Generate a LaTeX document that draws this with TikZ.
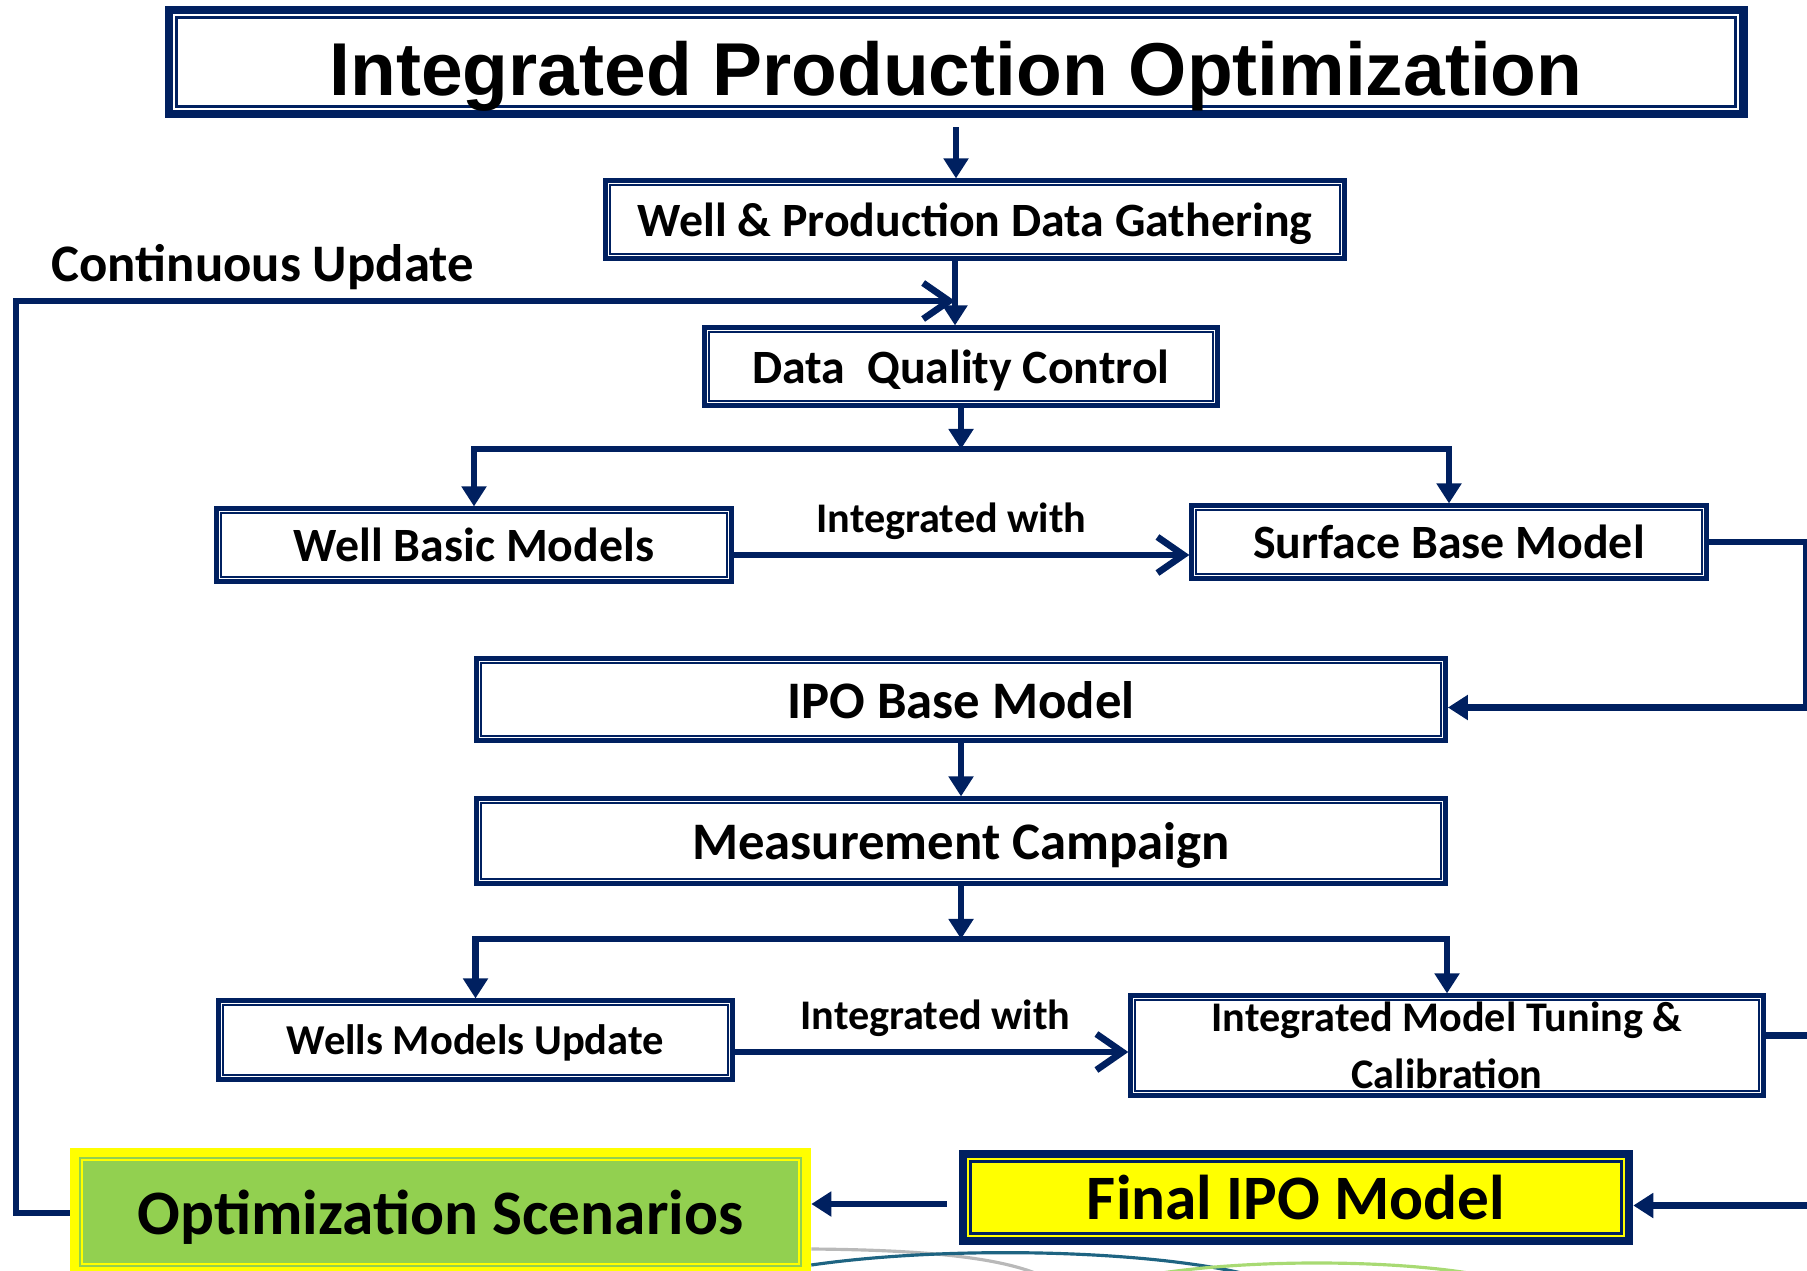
\documentclass[tikz,border=0pt]{standalone}
\usepackage{fontspec}
\setmainfont{Carlito}
\newfontfamily\headfont{Liberation Sans}
\usetikzlibrary{arrows.meta}
\definecolor{navy}{RGB}{0,32,96}
\definecolor{leaf}{RGB}{146,208,80}
\definecolor{lemon}{RGB}{255,255,0}
\definecolor{sea}{RGB}{30,100,130}
\newcommand{\fs}[1]{\fontsize{#1pt}{#1pt}\selectfont\bfseries}

\begin{document}
\begin{tikzpicture}[x=0.01cm,y=-0.01cm,
    link/.style={draw=navy,line width=1.9pt},
    tri/.style={link,-{Triangle[width=0.24cm,length=0.2cm]}},
    tris/.style={link,{Triangle[width=0.24cm,length=0.2cm]}-{Triangle[width=0.24cm,length=0.2cm]}},
    barb/.style={link,-{Straight Barb[length=0.26cm,width=0.36cm]}},
    inset/.style n args={3}{path picture={\draw[#1,line width=#2]
        ([shift={(#3,-#3)}]path picture bounding box.south west) rectangle
        ([shift={(-#3,#3)}]path picture bounding box.north east);}},
    box/.style={draw=navy,line width=1.3pt,fill=white,inner sep=0pt,align=center,text depth=0pt,inset={navy}{0.45pt}{4.5}},
    ]
    \useasboundingbox (0,0) rectangle (1807,1271);
    \node[box,line width=2.3pt,inset={navy}{0.85pt}{7.5},text height=19.3pt,minimum width=15.74cm,minimum height=1.04cm,font=\headfont\fs{21.3}] (title) at (956,62) {Integrated Production Optimization};
    \node[box,minimum width=7.385cm,minimum height=0.775cm,font=\fs{13.6}] (wpd) at (975,219.5) {Well \& Production Data Gathering};
    \node[box,minimum width=5.125cm,minimum height=0.775cm,font=\fs{13.6}] (dqc) at (961,366.5) {Data\ \ Quality Control};
    \node[box,minimum width=5.145cm,minimum height=0.725cm,font=\fs{13.6}] (wbm) at (474,545) {Well Basic Models};
    \node[box,minimum width=5.145cm,minimum height=0.725cm,font=\fs{13.6}] (sbm) at (1449,542) {Surface Base Model};
    \node[box,minimum width=9.685cm,minimum height=0.815cm,font=\fs{15}] (ipo) at (961,699.5) {IPO Base Model};
    \node[box,minimum width=9.685cm,minimum height=0.845cm,font=\fs{15}] (mc) at (961,841) {Measurement Campaign};
    \node[box,minimum width=5.135cm,minimum height=0.785cm,font=\fs{12.1}] (wmu) at (475.5,1040) {Wells Models Update};
    \node[box,minimum width=6.325cm,minimum height=0.995cm,font=\fs{12}] (tune) at (1447,1045.5) {Integrated Model Tuning \&\\[4.2pt] Calibration};
    \node[box,line width=2.3pt,fill=lemon,inset={navy}{0.85pt}{7.5},minimum width=6.66cm,minimum height=0.87cm,font=\fs{18}] (final) at (1296,1197.5) {Final IPO Model};
    \node[box,draw=lemon,line width=2.6pt,fill=leaf,inset={lemon}{0.6pt}{7.5},minimum width=7.32cm,minimum height=1.19cm,font=\fs{18}] (opt) at (440.5,1212) {Optimization Scenarios};
    \node[anchor=west,inner sep=0pt,font=\fs{15}] (cont) at (51,267) {Continuous Update};

    \coordinate (cu) at (955,301);
    \coordinate (s1) at (961,449);
    \coordinate (s2) at (961,939);
    \draw[tri,shorten <=0.09cm] (title.south) -- (title.south |- wpd.north);
    \draw[tri] (wpd.south -| cu) -- (dqc.north -| cu);
    \draw[barb] (opt.west |- 0,1213) -- (16,1213) |- (cu);
    \draw[tri] (dqc.south) -- (s1);
    \draw[tris] (wbm.north) |- (s1) -| (sbm.north);
    \draw[barb] ([yshift=-0.1cm]wbm.east) -- ([yshift=-0.1cm]wbm.east -| sbm.west) node[midway,above=3.5pt,xshift=-0.1cm,inner sep=0pt,font=\fs{12}] (iw1) {Integrated with};
    \draw[tri] (sbm.east) -- (sbm.east -| 1806,0) |- ([yshift=-0.08cm]ipo.east);
    \draw[tri] (ipo.south) -- (mc.north);
    \draw[tri] (mc.south) -- (s2);
    \draw[tris] (wmu.north) |- (s2) -| (tune.north);
    \draw[barb] ([yshift=-0.12cm]wmu.east) -- ([yshift=-0.12cm]wmu.east -| tune.west) node[midway,above=3.5pt,xshift=0.04cm,inner sep=0pt,font=\fs{12}] (iw2) {Integrated with};
    \draw[tri] ([yshift=0.1cm]tune.east) -- ([yshift=0.1cm]tune.east -| 1830,0) |- ([yshift=-0.08cm]final.east);
    \draw[tri,shorten <=0.12cm] (final.west |- 0,1204) -- (opt.east |- 0,1204);

    \draw[gray!55,line width=0.9pt] (opt.east |- 0,1249) .. controls (930,1250) and (1000,1258) .. (1040,1275);
    \draw[sea,line width=0.9pt] (opt.east |- 0,1265) .. controls (950,1245) and (1150,1250) .. (1250,1275);
    \draw[leaf!80,line width=0.9pt] (1149,1275) .. controls (1250,1258) and (1400,1260) .. (1480,1275);
\end{tikzpicture}
\end{document}
